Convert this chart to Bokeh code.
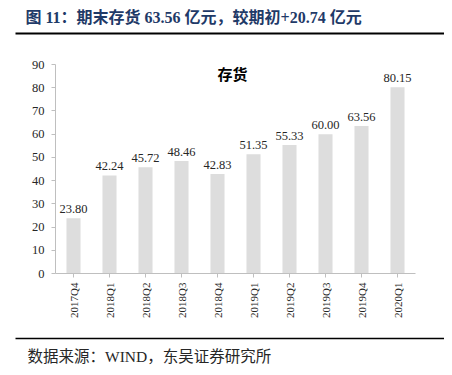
from bokeh.plotting import figure
from bokeh.models import Range1d, FixedTicker, Label, ColumnDataSource, BoxAnnotation
from bokeh.core.properties import value
from bokeh.embed import file_html
from bokeh.resources import INLINE
import math

# ---- data ----
categories = ["2017Q4", "2018Q1", "2018Q2", "2018Q3", "2018Q4",
              "2019Q1", "2019Q2", "2019Q3", "2019Q4", "2020Q1"]
inventory = [23.80, 42.24, 45.72, 48.46, 42.83, 51.35, 55.33, 60.00, 63.56, 80.15]
y_ticks = [0, 10, 20, 30, 40, 50, 60, 70, 80, 90]
title_text = "图 11：期末存货 63.56 亿元，较期初+20.74 亿元"
chart_title = "存货"
source_text = "数据来源：WIND，东吴证券研究所"

SERIF = "'Liberation Serif', 'Noto Sans CJK SC'"

# canvas geometry (px)
W, H = 444, 367
AX_L, AX_R = 55, 415          # plot area left/right
AX_T, AX_B = 64, 273          # plot area top (=90) / bottom (=0)
n = len(categories)
ppx = (AX_R - AX_L) / n
ppy = (AX_B - AX_T) / 90.0

p = figure(width=W, height=H,
           x_range=Range1d(-AX_L / ppx, (W - AX_L) / ppx),
           y_range=Range1d(-(H - AX_B) / ppy, AX_B / ppy),
           output_backend="svg", toolbar_location=None, min_border=0)
p.outline_line_color = None
p.grid.visible = False

xpos = [i + 0.5 for i in range(n)]
src = ColumnDataSource(dict(x=xpos, val=inventory,
                            lbl=["%.2f" % v for v in inventory]))
p.vbar(x="x", top="val", width=0.39, source=src, fill_color="#DDDDDD", line_color=None)
p.text(x="x", y="val", text="lbl", source=src, y_offset=-5,
       text_font=value("Liberation Serif"), text_font_size="12.5px", text_color="#262626",
       text_align="center", text_baseline="bottom")

yax = p.yaxis[0]
yax.fixed_location = 0
yax.bounds = (0, 90)
yax.ticker = FixedTicker(ticks=y_ticks)
yax.minor_tick_line_color = None
yax.major_tick_in = 0
yax.major_tick_out = 4
yax.axis_line_color = "#BFBFBF"
yax.major_tick_line_color = "#BFBFBF"
yax.major_label_standoff = 7
yax.major_label_text_font = "Liberation Serif"
yax.major_label_text_font_size = "12.5px"
yax.major_label_text_color = "#262626"

xax = p.xaxis[0]
xax.fixed_location = 0
xax.bounds = (0, n)
xax.ticker = FixedTicker(ticks=xpos)
xax.major_label_overrides = {x: c for x, c in zip(xpos, categories)}
xax.minor_tick_line_color = None
xax.major_tick_in = 0
xax.major_tick_out = 4
xax.axis_line_color = "#BFBFBF"
xax.major_tick_line_color = "#BFBFBF"
xax.major_label_orientation = math.pi / 2
xax.major_label_standoff = 5
xax.major_label_text_font = "Liberation Serif"
xax.major_label_text_font_size = "11px"
xax.major_label_text_color = "#262626"

def lab(x, y, text, **kw):
    p.add_layout(Label(x=x, y=H - y, x_units="screen", y_units="screen", text=text, **kw))

def rule(x0, x1, y, t):
    p.add_layout(BoxAnnotation(left=x0, right=x1, top=H - y + t / 2, bottom=H - y - t / 2,
                               left_units="screen", right_units="screen",
                               top_units="screen", bottom_units="screen",
                               fill_color="#000000", fill_alpha=1.0, line_color=None))

# inner chart title
lab(232, 73, chart_title, text_font="Noto Sans CJK SC", text_font_size="15px",
    text_font_style="bold", text_color="#000000", text_align="center", text_baseline="middle")
# header
lab(25, 17, title_text, text_font=SERIF, text_font_size="16px", text_font_style="bold",
    text_color="#1F3A68", text_align="left", text_baseline="middle")
rule(15, 444, 33, 2)
# footer
rule(15, 444, 338, 1.5)
lab(27, 356, source_text, text_font=SERIF, text_font_size="15.5px",
    text_color="#262626", text_align="left", text_baseline="middle")

open("out.html", "w").write(file_html(p, INLINE))
